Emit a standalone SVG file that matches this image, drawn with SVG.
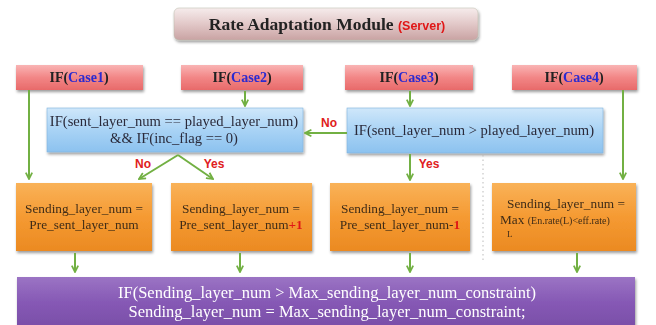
<svg xmlns="http://www.w3.org/2000/svg" width="656" height="325" viewBox="0 0 656 325">
<defs>
<linearGradient id="gTitle" x1="0" y1="0" x2="0" y2="1"><stop offset="0" stop-color="#f6ecec"/><stop offset="0.5" stop-color="#e2c8c8"/><stop offset="1" stop-color="#c9a3a3"/></linearGradient>
<linearGradient id="gCase" x1="0" y1="0" x2="0" y2="1"><stop offset="0" stop-color="#f9b4b4"/><stop offset="0.5" stop-color="#f28686"/><stop offset="1" stop-color="#e86a6a"/></linearGradient>
<linearGradient id="gBlue" x1="0" y1="0" x2="0" y2="1"><stop offset="0" stop-color="#cfe7fa"/><stop offset="0.5" stop-color="#a9d3f5"/><stop offset="1" stop-color="#8cc2ef"/></linearGradient>
<linearGradient id="gOrange" x1="0" y1="0" x2="0" y2="1"><stop offset="0" stop-color="#f9b259"/><stop offset="0.5" stop-color="#f59a32"/><stop offset="1" stop-color="#eb8a22"/></linearGradient>
<linearGradient id="gPurple" x1="0" y1="0" x2="0" y2="1"><stop offset="0" stop-color="#9b74c4"/><stop offset="0.5" stop-color="#8659b5"/><stop offset="1" stop-color="#7a4ea8"/></linearGradient>
<filter id="sh" x="-10%" y="-20%" width="120%" height="150%"><feGaussianBlur in="SourceAlpha" stdDeviation="1.5"/><feOffset dx="1" dy="2" result="b"/><feComponentTransfer><feFuncA type="linear" slope="0.4"/></feComponentTransfer><feMerge><feMergeNode/><feMergeNode in="SourceGraphic"/></feMerge></filter>
<marker id="ah" viewBox="0 0 10 10" refX="9" refY="5" markerWidth="4" markerHeight="4" orient="auto"><path d="M1,1 L9,5 L1,9" fill="none" stroke="#72b043" stroke-width="2.2"/></marker>
</defs>
<style>
.t{font-family:"Liberation Serif","Times New Roman",serif;font-size:13.3px;fill:#3f2c18;text-anchor:middle}
.tb{font-size:14.6px;fill:#2a2a3a}
.cb{font-family:"Liberation Serif","Times New Roman",serif;font-size:14px;font-weight:bold;fill:#222;text-anchor:middle}
.cn{fill:#2a2ad0}
.lbl{font-family:"Liberation Sans",Arial,sans-serif;font-size:12px;font-weight:bold;fill:#e02020;text-anchor:middle}
.c{fill:none;stroke:#72b043;stroke-width:2;marker-end:url(#ah)}
.w{fill:#fff;font-size:16.5px}
</style>
<rect width="656" height="325" fill="#fff"/>
<g id="title" filter="url(#sh)">
<rect x="174" y="8" width="304" height="32" rx="5" fill="url(#gTitle)" stroke="#bba" stroke-width="0.5"/>
<text x="327" y="30" font-family="'Liberation Serif','Times New Roman',serif" font-size="17.5" font-weight="bold" fill="#222" text-anchor="middle">Rate Adaptation Module <tspan font-family="'Liberation Sans',Arial,sans-serif" font-size="12.5" fill="#e01818">(Server)</tspan></text>
</g>
<g id="case1" filter="url(#sh)"><rect x="16" y="65" width="127" height="25" fill="url(#gCase)"/><text class="cb" x="79" y="82">IF(<tspan class="cn">Case1</tspan>)</text></g>
<g id="case2" filter="url(#sh)"><rect x="181" y="65" width="122" height="25" fill="url(#gCase)"/><text class="cb" x="242" y="82">IF(<tspan class="cn">Case2</tspan>)</text></g>
<g id="case3" filter="url(#sh)"><rect x="345" y="65" width="128" height="25" fill="url(#gCase)"/><text class="cb" x="409" y="82">IF(<tspan class="cn">Case3</tspan>)</text></g>
<g id="case4" filter="url(#sh)"><rect x="512" y="65" width="125" height="25" fill="url(#gCase)"/><text class="cb" x="574" y="82">IF(<tspan class="cn">Case4</tspan>)</text></g>
<g id="cond1" filter="url(#sh)"><rect x="47" y="108" width="256" height="44" fill="url(#gBlue)" stroke="#7fb3de" stroke-width="0.6"/><text class="t tb" x="174" y="126">IF(sent_layer_num == played_layer_num)</text><text class="t tb" x="174" y="143">&amp;&amp; IF(inc_flag == 0)</text></g>
<g id="cond2" filter="url(#sh)"><rect x="347" y="108" width="256" height="45" fill="url(#gBlue)" stroke="#7fb3de" stroke-width="0.6"/><text class="t tb" x="474" y="135">IF(sent_layer_num &gt; played_layer_num)</text></g>
<g id="op1" filter="url(#sh)"><rect x="16" y="183" width="136" height="68" fill="url(#gOrange)"/><text class="t" x="84" y="213">Sending_layer_num =</text><text class="t" x="84" y="229">Pre_sent_layer_num</text></g>
<g id="op2" filter="url(#sh)"><rect x="171" y="183" width="141" height="68" fill="url(#gOrange)"/><text class="t" x="241" y="213">Sending_layer_num =</text><text class="t" x="241" y="229">Pre_sent_layer_num<tspan fill="#e01818" font-weight="bold">+1</tspan></text></g>
<g id="op3" filter="url(#sh)"><rect x="330" y="183" width="140" height="68" fill="url(#gOrange)"/><text class="t" x="400" y="213">Sending_layer_num =</text><text class="t" x="400" y="229">Pre_sent_layer_num-<tspan fill="#e01818" font-weight="bold">1</tspan></text></g>
<g id="op4" filter="url(#sh)"><rect x="492" y="183" width="144" height="68" fill="url(#gOrange)"/><text class="t" x="566" y="208">Sending_layer_num =</text><text class="t" x="500" y="224" style="text-anchor:start">Max <tspan style="font-size:10px">(En.rate(L)&lt;eff.rate)</tspan></text><text class="t" x="507" y="237" style="text-anchor:start;font-size:9px">L</text></g>
<g id="final" filter="url(#sh)"><rect x="17" y="277" width="618" height="50" fill="url(#gPurple)"/><text class="t w" x="327" y="298">IF(Sending_layer_num &gt; Max_sending_layer_num_constraint)</text><text class="t w" x="327" y="317">Sending_layer_num = Max_sending_layer_num_constraint;</text></g>
<line x1="483" y1="155" x2="483" y2="262" stroke="#bbb" stroke-width="1" stroke-dasharray="1.5,3"/>
<g id="connectors">
<path class="c" d="M29,90 V179"/>
<path class="c" d="M245,91 V106"/>
<path class="c" d="M410,91 V106"/>
<path class="c" d="M623,90 V179"/>
<path class="c" d="M347,133 H305"/>
<path class="c" d="M178,155 L139,179"/>
<path class="c" d="M178,155 L213,179"/>
<path class="c" d="M410,154 V180"/>
<path class="c" d="M75,253 V272"/>
<path class="c" d="M240,253 V272"/>
<path class="c" d="M410,253 V272"/>
<path class="c" d="M577,253 V272"/>
</g>
<g id="labels">
<text class="lbl" x="329" y="127">No</text>
<text class="lbl" x="143" y="168">No</text>
<text class="lbl" x="214" y="168">Yes</text>
<text class="lbl" x="429" y="168">Yes</text>
</g>
</svg>
